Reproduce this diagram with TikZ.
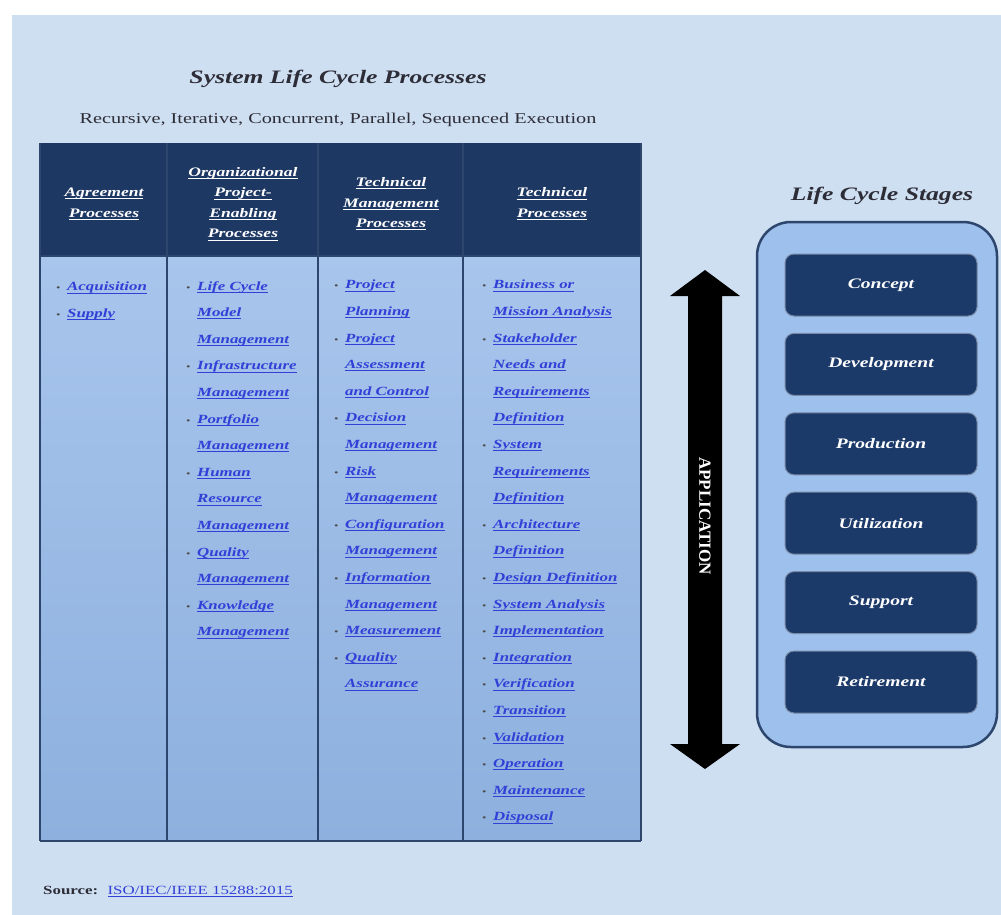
\documentclass[tikz,border=0pt]{standalone}
\usepackage{fontspec}
\setmainfont[FakeStretch=1.35]{Liberation Serif}
\newfontfamily\plainserif{Liberation Serif}
\usetikzlibrary{positioning}

\definecolor{bgblue}{RGB}{207,223,242}
\definecolor{hdrnavy}{RGB}{30,56,100}
\definecolor{bodyblue}{RGB}{141,176,222}
\definecolor{bodytop}{RGB}{168,197,236}
\definecolor{gridnavy}{RGB}{45,70,110}
\definecolor{linkblue}{RGB}{50,64,215}
\definecolor{panelblue}{RGB}{158,192,236}
\definecolor{stagenavy}{RGB}{28,58,105}
\definecolor{titlegray}{RGB}{45,45,55}

% underlined line, and bullet line of a list
\newcommand{\cnt}[1]{\setbox0\hbox{#1}\rlap{\rule[-2.6pt]{\wd0}{0.9pt}}\box0}
\newcommand{\bul}[1]{\llap{{\color{gray!60!black}\fontsize{8}{8}\selectfont\textbullet}\hspace{7pt}}\cnt{#1}}

\begin{document}
\begin{tikzpicture}[x=1pt, y=-1pt,
    heading/.style={font=\fontsize{19}{22}\selectfont\bfseries\itshape, text=titlegray, inner sep=0pt},
    subheading/.style={font=\fontsize{15}{18}\selectfont, text=titlegray, inner sep=0pt},
    hdrcell/.style={font=\fontsize{13}{20.5}\selectfont\bfseries\itshape, text=white, align=center, inner sep=0pt},
    linklist/.style={font=\fontsize{12.5}{26.6}\selectfont\bfseries\itshape, text=linkblue, align=left, anchor=north west, inner sep=0pt},
    stagebox/.style={draw=stagenavy!60!white, line width=1pt, fill=stagenavy, rounded corners=9pt, minimum width=192pt, minimum height=62pt, font=\fontsize{14.5}{17}\selectfont\bfseries\itshape, text=white},
    apptext/.style={font=\plainserif\fontsize{17}{20}\selectfont\bfseries, text=white, inner sep=0pt},
    srctext/.style={font=\fontsize{12.5}{15}\selectfont, text=titlegray, inner sep=0pt, anchor=base west}]

    % BACKGROUND
    \useasboundingbox (0,0) rectangle (1001,915);
    \fill[white] (0,0) rectangle (1001,915);
    \fill[bgblue] (12,15) rectangle (1001,915);

    % TITLES
    \node[heading] (slcp) at (338,79) {System Life Cycle Processes};
    \node[subheading] (execmodes) at (338,120) {Recursive, Iterative, Concurrent, Parallel, Sequenced Execution};

    % PROCESS TABLE
    \shade[top color=bodytop, bottom color=bodyblue] (40,256) rectangle (641,841);
    \fill[hdrnavy] (40,143) rectangle (641,256);
    \foreach \x in {40,167,318,463,641} {
    \draw[gridnavy, line width=1.6pt] (\x,143) -- (\x,841);
    }
    \draw[gridnavy, line width=1.2pt] (40,256) -- (641,256);
    \draw[gridnavy, line width=1.6pt] (40,841) -- (641,841);

    % COLUMN HEADERS
    \node[hdrcell] (agreehdr) at (104,204) {\cnt{Agreement}\\\cnt{Processes}};
    \node[hdrcell] (orghdr) at (243,204) {\cnt{Organizational}\\\cnt{Project-}\\\cnt{Enabling}\\\cnt{Processes}};
    \node[hdrcell] (techmgthdr) at (391,204) {\cnt{Technical}\\\cnt{Management}\\\cnt{Processes}};
    \node[hdrcell] (techhdr) at (552,204) {\cnt{Technical}\\\cnt{Processes}};

    % PROCESS LISTS
    \node[linklist] (agreelist) at (67,282) {\bul{Acquisition}\\\bul{Supply}};
    \node[linklist] (orglist) at (197,281) {\bul{Life Cycle}\\\cnt{Model}\\\cnt{Management}\\
      \bul{Infrastructure}\\\cnt{Management}\\\bul{Portfolio}\\\cnt{Management}\\
      \bul{Human}\\\cnt{Resource}\\\cnt{Management}\\\bul{Quality}\\\cnt{Management}\\
      \bul{Knowledge}\\\cnt{Management}};
    \node[linklist] (techmgtlist) at (345,280) {\bul{Project}\\\cnt{Planning}\\\bul{Project}\\
      \cnt{Assessment}\\\cnt{and Control}\\\bul{Decision}\\\cnt{Management}\\\bul{Risk}\\
      \cnt{Management}\\\bul{Configuration}\\\cnt{Management}\\\bul{Information}\\
      \cnt{Management}\\\bul{Measurement}\\\bul{Quality}\\\cnt{Assurance}};
    \node[linklist] (techlist) at (493,280) {\bul{Business or}\\\cnt{Mission Analysis}\\
      \bul{Stakeholder}\\\cnt{Needs and}\\\cnt{Requirements}\\\cnt{Definition}\\
      \bul{System}\\\cnt{Requirements}\\\cnt{Definition}\\\bul{Architecture}\\\cnt{Definition}\\
      \bul{Design Definition}\\\bul{System Analysis}\\\bul{Implementation}\\\bul{Integration}\\
      \bul{Verification}\\\bul{Transition}\\\bul{Validation}\\\bul{Operation}\\
      \bul{Maintenance}\\\bul{Disposal}};

    % APPLICATION ARROW
    \fill[black] (705,270) -- (740,296) -- (722,296) -- (722,744) -- (740,744) -- (705,769)
      -- (670,744) -- (688,744) -- (688,296) -- (670,296) -- cycle;
    \node[apptext, rotate=-90] (application) at (705,516) {APPLICATION};

    % LIFE CYCLE STAGES
    \node[heading] (stageshdr) at (882,196) {Life Cycle Stages};
    \draw[gridnavy, line width=2.5pt, fill=panelblue, rounded corners=34pt] (757,222) rectangle (997,747);
    \foreach \name [count=\i from 0] in {Concept,Development,Production,Utilization,Support,Retirement} {
    \node[stagebox] (\name) at (881,285+79.4*\i) {\name};
    }

    % SOURCE
    \node[srctext] (srclabel) at (43,894) {\textbf{Source:}};
    \node[srctext, text=linkblue] (srclink) at ([xshift=9pt]srclabel.base east) {\cnt{ISO/IEC/IEEE 15288:2015}};

\end{tikzpicture}
\end{document}
